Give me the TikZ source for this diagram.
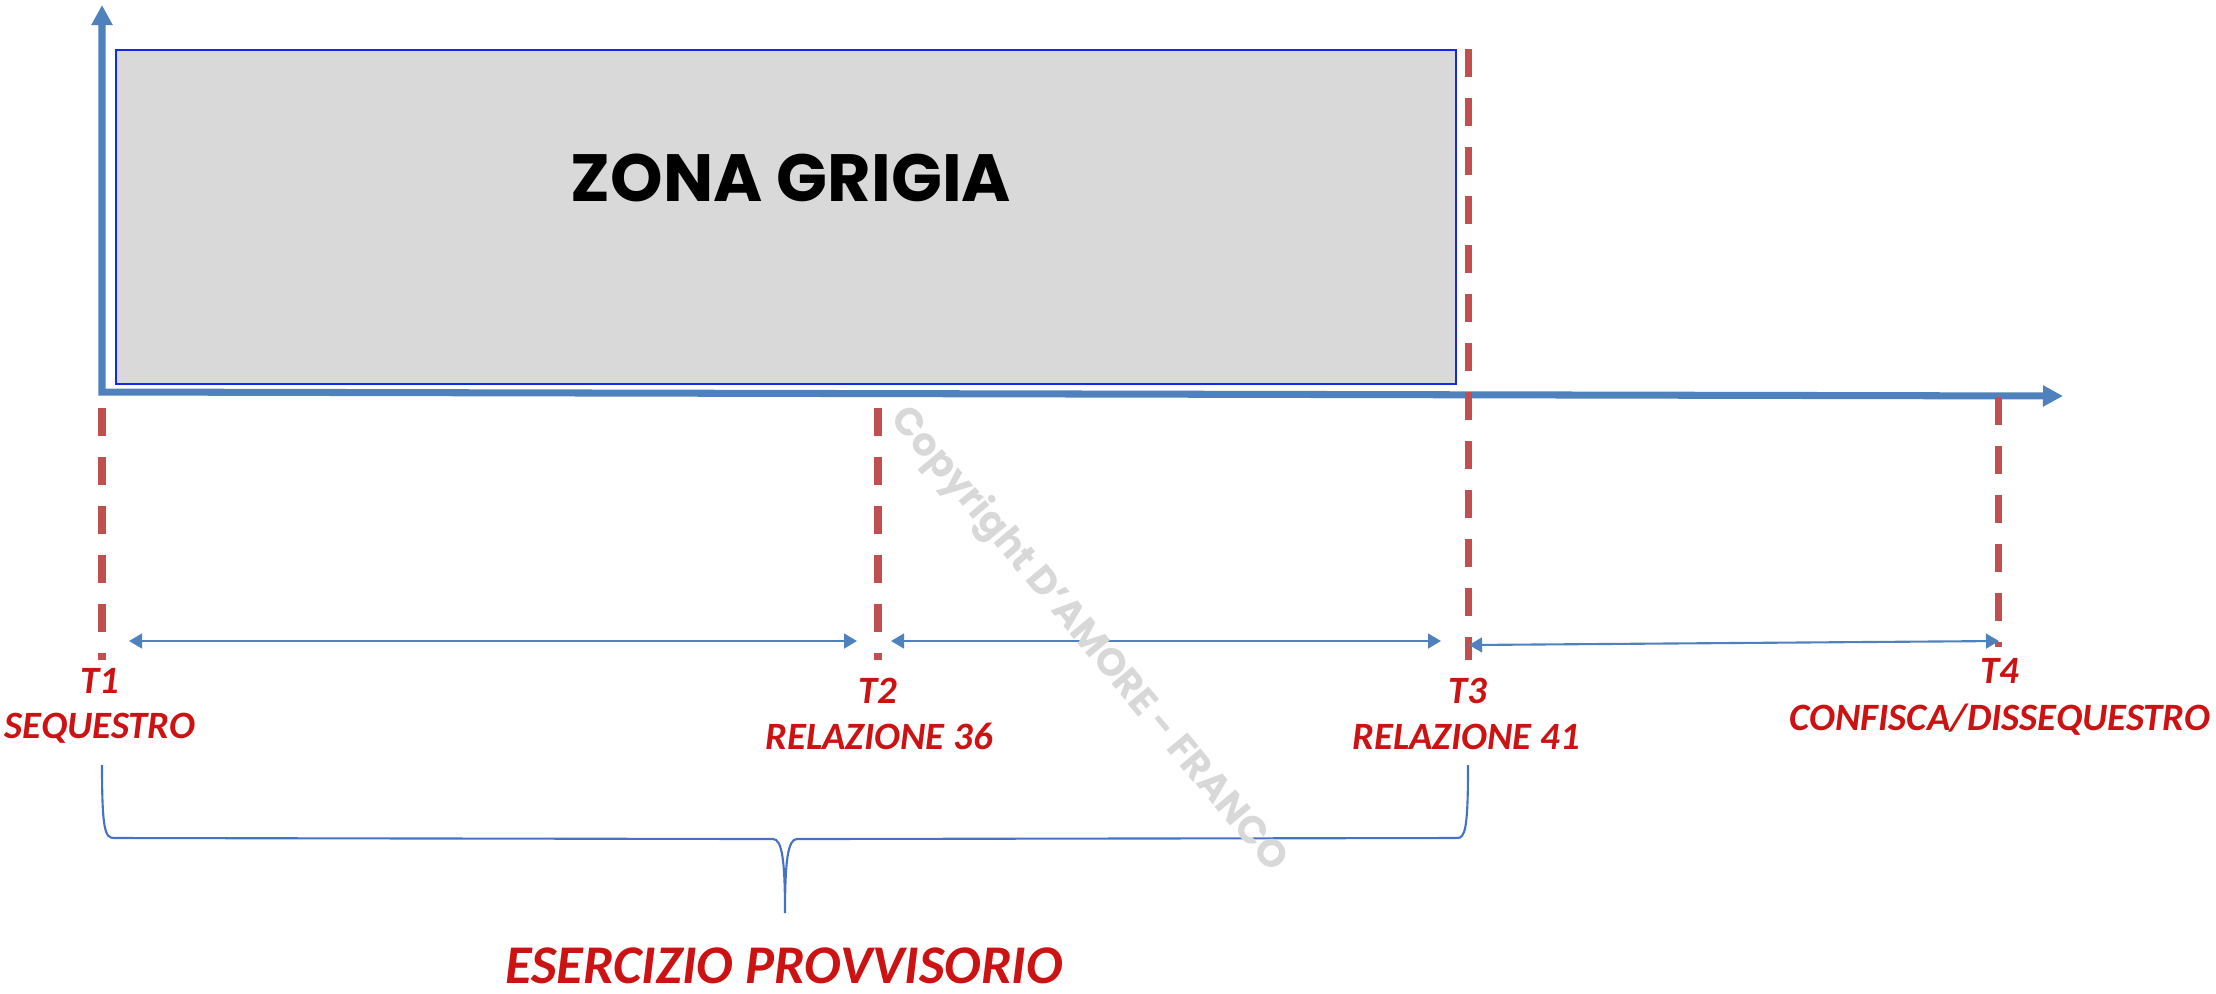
\documentclass[tikz,border=0pt]{standalone}
\usepackage{fontspec}
\setmainfont{Carlito}
\newfontfamily\zonafont{Poppins}
\usetikzlibrary{arrows.meta}
\definecolor{axisblue}{RGB}{79,129,189}
\definecolor{boxblue}{RGB}{20,40,240}
\definecolor{boxgray}{RGB}{217,217,217}
\definecolor{dashred}{RGB}{192,80,77}
\definecolor{labelred}{RGB}{204,18,18}
\definecolor{wmgray}{RGB}{216,216,216}
\definecolor{braceblue}{RGB}{68,114,196}
\begin{document}
\begin{tikzpicture}[x=0.01cm,y=-0.01cm,
  axis/.style={draw=axisblue,line width=2pt,line join=miter,
    {Triangle[length=5.7pt,width=5.7pt]}-{Triangle[length=5.7pt,width=5.7pt]}},
  timeline/.style={draw=dashred,line width=2pt,dash pattern=on 7.97pt off 5.97pt},
  span/.style={draw=axisblue,line width=0.6pt,
    {Triangle[length=3.7pt,width=4.2pt]}-{Triangle[length=3.7pt,width=4.2pt]}},
  zonebox/.style={draw=boxblue,fill=boxgray,line width=0.6pt,inner sep=0pt,
    minimum width=13.39cm,minimum height=3.34cm,anchor=north west},
  tlabel/.style={text=labelred,font=\fontsize{11}{13}\selectfont\bfseries\itshape,
    inner sep=0pt,anchor=base},
  bigtxt/.style={text=labelred,font=\fontsize{15.5}{18}\selectfont\bfseries\itshape,
    inner sep=0pt,text depth=0pt,anchor=base},
  zonatxt/.style={text=black,font=\zonafont\fontsize{19}{22}\selectfont\bfseries,
    inner sep=0pt,anchor=base},
  watermark/.style={text=wmgray,font=\zonafont\fontsize{11}{14}\selectfont\bfseries,inner sep=0pt,rotate=-50},
  bracepath/.style={draw=braceblue,line width=0.6pt}]
\useasboundingbox (0,0) rectangle (2216,993);

% grey zone
\node[zonebox] (zone) at (115,49) {};
\node[zonatxt] (zonalabel) at (791,201) {ZONA GRIGIA};

% axes
\coordinate (ytip) at (102,5);
\coordinate (origin) at (102,392);
\coordinate (xtip) at (2063,396);
\draw[axis] (ytip) -- (origin) -- (xtip);

% time lines
\coordinate (t1a) at (102,408);  \coordinate (t1b) at (102,660);
\coordinate (t2a) at (878,408);  \coordinate (t2b) at (878,660);
\coordinate (t3a) at (1468,49);  \coordinate (t3b) at (1468,660);
\coordinate (t4a) at (1998,397); \coordinate (t4b) at (1998,647);
\draw[timeline] (t1a) -- (t1b);
\draw[timeline] (t2a) -- (t2b);
\draw[timeline] (t3a) -- (t3b);
\draw[timeline] (t4a) -- (t4b);

% spans
\coordinate (s1a) at (129,641);  \coordinate (s1b) at (857,641);
\coordinate (s2a) at (891,641);  \coordinate (s2b) at (1441,641);
\coordinate (s3a) at (1469,645); \coordinate (s3b) at (1999,641);
\draw[span] (s1a) -- (s1b);
\draw[span] (s2a) -- (s2b);
\draw[span] (s3a) -- (s3b);

% labels
\node[tlabel] (T1) at (100,693) {T1};
\node[tlabel] (L1) at (100,738) {SEQUESTRO};
\node[tlabel] (T2) at (878,703) {T2};
\node[tlabel] (L2) at (879,749) {RELAZIONE 36};
\node[tlabel] (T3) at (1468,703) {T3};
\node[tlabel] (L3) at (1466,749) {RELAZIONE 41};
\node[tlabel] (T4) at (2000,683) {T4};
\node[tlabel] (L4) at (2000,730) {CONFISCA/DISSEQUESTRO};

% brace
\coordinate (ba) at (102,765);
\coordinate (bb) at (1468,765);
\coordinate (btip) at (785,913);
\draw[bracepath] (ba) .. controls (102,830) and (105,838) .. (114,838)
  -- (773,839) .. controls (782,839) and (785,860) .. (btip)
  .. controls (785,860) and (788,839) .. (797,839)
  -- (1457,838) .. controls (1465,838) and (1468,830) .. (bb);
\node[bigtxt] (esercizio) at (784,983) {ESERCIZIO PROVVISORIO};

% watermark
\node[watermark] (wm) at (1088,640) {Copyright D’AMORE - FRANCO};
\end{tikzpicture}
\end{document}
